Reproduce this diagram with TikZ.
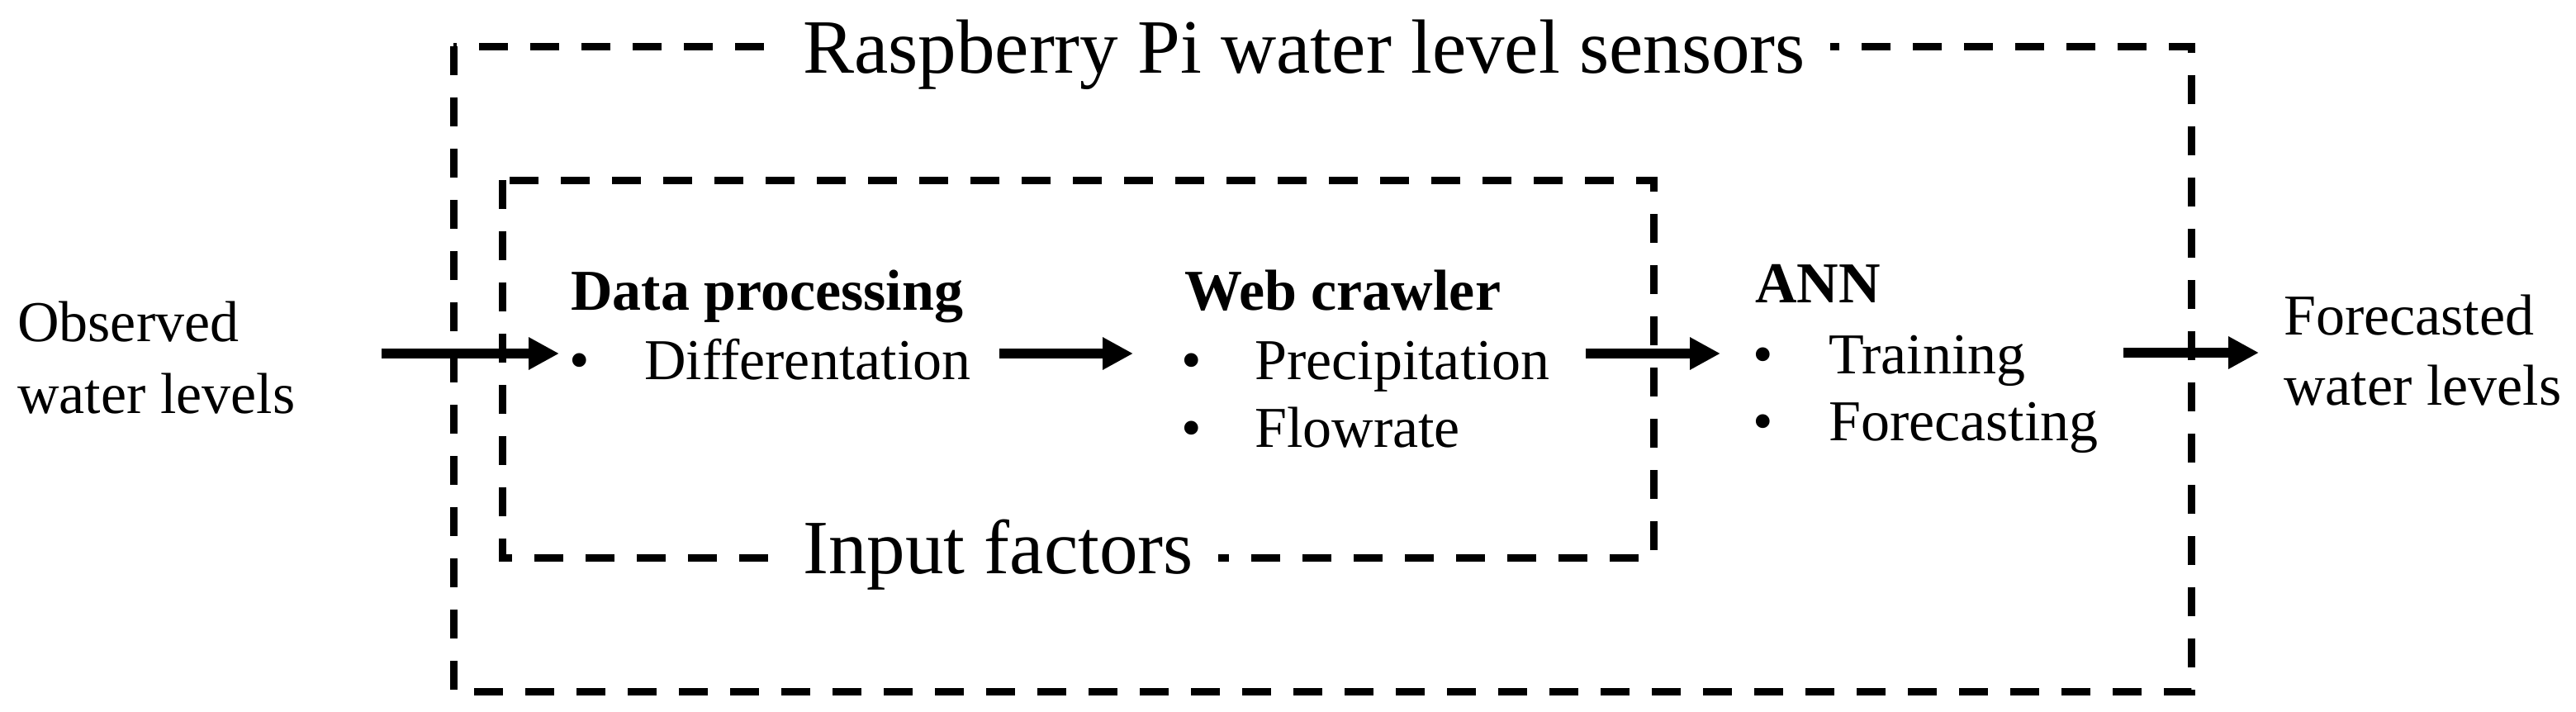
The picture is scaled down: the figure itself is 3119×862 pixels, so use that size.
\documentclass[tikz,border=0pt]{standalone}
\usepackage{fontspec}
\setmainfont{Liberation Serif}
\usetikzlibrary{arrows.meta}
\begin{document}
\begin{tikzpicture}[x=1pt,y=-1pt,
  txt/.style={anchor=base west,inner sep=0pt,font=\fontsize{70}{84}\selectfont},
  hd/.style={anchor=base west,inner sep=0pt,font=\fontsize{70}{84}\selectfont\bfseries},
  big/.style={anchor=base west,inner xsep=30pt,inner ysep=0pt,fill=white,font=\fontsize{93}{110}\selectfont},
  frame/.style={draw=black,line width=9pt,dash pattern=on 35pt off 27pt},
  arr/.style={draw=black,line width=12pt,-{Triangle[length=37pt,width=37pt]}}]
\useasboundingbox (0,0) rectangle (3119,862);
% frames
\coordinate (o1) at (549,56);
\coordinate (o2) at (2653,837);
\coordinate (i1) at (608,218);
\coordinate (i2) at (2002,675);
\draw[frame] (o1) rectangle (o2);
\draw[frame] (i1) rectangle (i2);
\node[big] (rpi) at (942,88) {Raspberry Pi water level sensors};
\node[big] (inf) at (942,694) {Input factors};
% left text
\node[txt] (obs1) at (21,413) {Observed};
\node[txt] (obs2) at (21,500) {water levels};
% data processing
\node[hd] (dph) at (691,375) {Data processing};
\node[txt] (dp1) at (689,459) {\makebox[91pt][l]{•}Differentation};
% web crawler
\node[hd] (wch) at (1434,375) {Web crawler};
\node[txt] (wc1) at (1430,459) {\makebox[89pt][l]{•}Precipitation};
\node[txt] (wc2) at (1430,541) {\makebox[89pt][l]{•}Flowrate};
% ANN
\node[hd] (annh) at (2125,366) {ANN};
\node[txt] (ann1) at (2122,452) {\makebox[92pt][l]{•}Training};
\node[txt] (ann2) at (2122,533) {\makebox[92pt][l]{•}Forecasting};
% right text
\node[txt] (fc1) at (2765,405) {Forecasted};
\node[txt] (fc2) at (2765,490) {water levels};
% arrows
\coordinate (a1s) at (462,428);
\coordinate (a1e) at (677,428);
\coordinate (a2s) at (1210,428);
\coordinate (a2e) at (1372,428);
\coordinate (a3s) at (1920,428);
\coordinate (a3e) at (2083,428);
\coordinate (a4s) at (2571,427);
\coordinate (a4e) at (2735,427);
\draw[arr] (a1s) -- (a1e);
\draw[arr] (a2s) -- (a2e);
\draw[arr] (a3s) -- (a3e);
\draw[arr] (a4s) -- (a4e);
\end{tikzpicture}
\end{document}
